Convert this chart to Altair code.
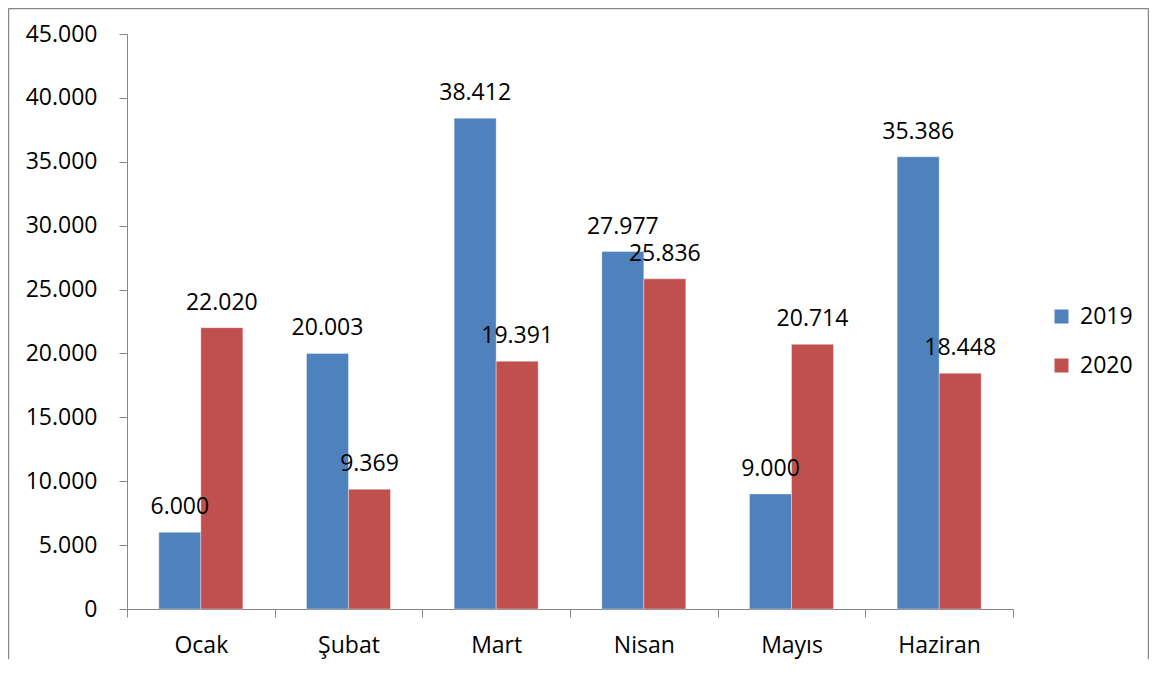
import altair as alt
import pandas as pd

months = ["Ocak", "Şubat", "Mart", "Nisan", "Mayıs", "Haziran"]
years = ["2019", "2020"]
values_2019 = [6000, 20003, 38412, 27977, 9000, 35386]
values_2020 = [22020, 9369, 19391, 25836, 20714, 18448]
y_ticks = [0, 5000, 10000, 15000, 20000, 25000, 30000, 35000, 40000, 45000]
colors = ["#4F81BD", "#C0504D"]

rows = []
for m, a, b in zip(months, values_2019, values_2020):
    rows.append({"ay": m, "yil": "2019", "deger": a})
    rows.append({"ay": m, "yil": "2020", "deger": b})
df = pd.DataFrame(rows)

FONT = "Open Sans"
FS = 23
GRAY = "#868686"

x_enc = alt.X(
    "ay:N",
    sort=months,
    scale=alt.Scale(paddingInner=0, paddingOuter=0),
    axis=alt.Axis(
        title=None,
        labelAngle=0,
        tickBand="extent",
        tickSize=8,
        tickColor=GRAY,
        domainColor=GRAY,
        labelFont=FONT,
        labelFontSize=FS,
        labelColor="#000000",
        labelBaseline="alphabetic",
        labelPadding=35,
        grid=False,
    ),
)
xoff_enc = alt.XOffset(
    "yil:N", sort=years, scale=alt.Scale(paddingInner=0, paddingOuter=0.758)
)
y_enc = alt.Y(
    "deger:Q",
    scale=alt.Scale(domain=[0, 45000], nice=False),
    axis=alt.Axis(
        title=None,
        values=y_ticks,
        tickSize=8,
        tickColor=GRAY,
        domainColor=GRAY,
        labelFont=FONT,
        labelFontSize=FS,
        labelColor="#000000",
        labelPadding=22,
        labelBaseline="middle",
        grid=False,
        labelExpr="replace(format(datum.value, ','), ',', '.')",
    ),
)

base = alt.Chart(df)

bars = base.mark_bar(stroke="#ffffff", strokeWidth=0.6, strokeOpacity=0.6).encode(
    x=x_enc,
    xOffset=xoff_enc,
    y=y_enc,
    color=alt.Color(
        "yil:N",
        scale=alt.Scale(domain=years, range=colors),
        legend=alt.Legend(
            title=None,
            orient="none",
            legendX=923,
            legendY=271,
            symbolType="square",
            symbolSize=196,
            symbolStrokeWidth=0,
            labelFont=FONT,
            labelFontSize=FS,
            labelColor="#000000",
            labelOffset=7,
            rowPadding=25,
            padding=0,
        ),
    ),
)

labels = base.transform_calculate(
    etiket="replace(format(datum.deger, ','), ',', '.')"
).mark_text(
    baseline="alphabetic", dy=-18, font=FONT, fontSize=FS, color="#000000"
).encode(
    x=alt.X("ay:N", sort=months),
    xOffset=alt.XOffset("yil:N", sort=years),
    y=alt.Y("deger:Q"),
    text="etiket:N",
)

frame_src = alt.Chart(alt.Data(values=[{}]))
frame_left = frame_src.mark_rule(color=GRAY, strokeWidth=1.2, clip=False).encode(
    x=alt.value(-118.4), y=alt.value(-25.4), y2=alt.value(625)
)
frame_right = frame_src.mark_rule(color=GRAY, strokeWidth=1.2, clip=False).encode(
    x=alt.value(1021.4), y=alt.value(-25.4), y2=alt.value(625)
)
frame_top = frame_src.mark_rule(color=GRAY, strokeWidth=1.2, clip=False).encode(
    x=alt.value(-118.4), x2=alt.value(1021.4), y=alt.value(-25.4)
)

chart = alt.layer(bars, labels, frame_left, frame_right, frame_top).properties(
    width=886,
    height=575,
    padding={"left": 119, "top": 26, "right": 136, "bottom": 50},
    autosize=alt.AutoSizeParams(type="none"),
).configure_view(stroke=None)

chart.save("out.html", embed_options={"renderer": "svg", "actions": False})
